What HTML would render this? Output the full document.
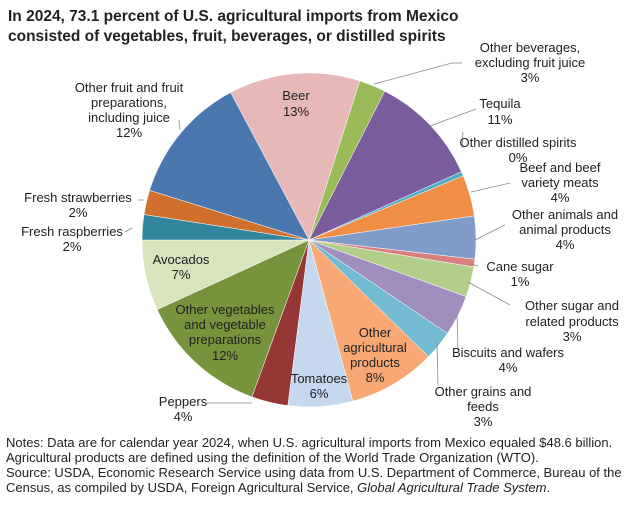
<!DOCTYPE html>
<html><head><meta charset="utf-8"><style>
body{margin:0;background:#fff;}
svg text{font-family:"Liberation Sans",Arial,sans-serif;font-size:13px;fill:#222;}
</style></head><body>
<svg id="s" width="626" height="501" viewBox="0 0 626 501" xmlns="http://www.w3.org/2000/svg">
<rect width="626" height="501" fill="#fff"/>
<g id="pie"></g>
<g stroke="#888" stroke-width="0.8" fill="none">
<polyline points="374,84 452,63 462,63"/>
<polyline points="430,126 476,109"/>
<polyline points="462,148 463,132"/>
<polyline points="471,192 510,183"/>
<polyline points="475,240 505,225"/>
<polyline points="472,264 478,266"/>
<polyline points="468,282 510,305"/>
<polyline points="457,314 458,350"/>
<polyline points="437,343 438,385"/>
<polyline points="252,403 207,403"/>
<polyline points="144,200 138,200"/>
<polyline points="132,228 125,232"/>
<polyline points="179,120 180,130"/>
</g>
<text x="8" y="21" style="font-weight:bold;font-size:15.5px">In 2024, 73.1 percent of U.S. agricultural imports from Mexico</text>
<text x="8" y="41" style="font-weight:bold;font-size:15.5px">consisted of vegetables, fruit, beverages, or distilled spirits</text>
<g text-anchor="middle">
<text x="296" y="100">Beer</text><text x="296" y="116">13%</text>
<text x="530" y="52">Other beverages,</text><text x="530" y="67">excluding fruit juice</text><text x="530" y="82">3%</text>
<text x="500" y="108">Tequila</text><text x="500" y="124">11%</text>
<text x="518" y="147">Other distilled spirits</text><text x="518" y="162">0%</text>
<text x="560" y="172">Beef and beef</text><text x="560" y="187">variety meats</text><text x="560" y="202">4%</text>
<text x="565" y="219">Other animals and</text><text x="565" y="234">animal products</text><text x="565" y="249">4%</text>
<text x="520" y="271">Cane sugar</text><text x="520" y="286">1%</text>
<text x="572" y="310">Other sugar and</text><text x="572" y="326">related products</text><text x="572" y="341">3%</text>
<text x="508" y="357">Biscuits and wafers</text><text x="508" y="372">4%</text>
<text x="483" y="396">Other grains and</text><text x="483" y="411">feeds</text><text x="483" y="426">3%</text>
<text x="375" y="337">Other</text><text x="375" y="352">agricultural</text><text x="375" y="367">products</text><text x="375" y="382">8%</text>
<text x="319" y="383">Tomatoes</text><text x="319" y="398">6%</text>
<text x="183" y="406">Peppers</text><text x="183" y="421">4%</text>
<text x="225" y="314">Other vegetables</text><text x="225" y="329">and vegetable</text><text x="225" y="344">preparations</text><text x="225" y="360">12%</text>
<text x="181" y="264">Avocados</text><text x="181" y="279">7%</text>
<text x="78" y="202">Fresh strawberries</text><text x="78" y="217">2%</text>
<text x="72" y="236">Fresh raspberries</text><text x="72" y="251">2%</text>
<text x="129" y="92">Other fruit and fruit</text><text x="129" y="107">preparations,</text><text x="129" y="122">including juice</text><text x="129" y="137">12%</text>
</g>
<g style="font-size:12.3px">
<text x="6" y="447">Notes: Data are for calendar year 2024, when U.S. agricultural imports from Mexico equaled $48.6 billion.</text>
<text x="6" y="462">Agricultural products are defined using the definition of the World Trade Organization (WTO).</text>
<text x="6" y="477">Source: USDA, Economic Research Service using data from U.S. Department of Commerce, Bureau of the</text>
<text x="6" y="492">Census, as compiled by USDA, Foreign Agricultural Service, <tspan font-style="italic">Global Agricultural Trade System</tspan>.</text>
</g>
</svg>
<script>
var cx=309,cy=240,r=167;
var b=[[-28,17.7,"#e6b9b8"],[17.7,27,"#9bbb59"],[27,65.9,"#7a5c9c"],[65.9,67.4,"#4bacc6"],[67.4,81.7,"#ef8e44"],[81.7,96.6,"#7f9cc9"],[96.6,99.3,"#d9807f"],[99.3,109.8,"#b3cd8b"],[109.8,124,"#a08ebe"],[124,134.3,"#72bbd2"],[134.3,164.8,"#f8a874"],[164.8,187.3,"#c6d8f0"],[187.3,200,"#953735"],[200,245.4,"#77933c"],[245.4,270,"#d8e4bd"],[270,278.8,"#31859c"],[278.8,287.3,"#d0702e"],[287.3,332,"#4a77b0"]];
var g=document.getElementById("pie"),h="";
function p(a){a=a*Math.PI/180;return (cx+r*Math.sin(a)).toFixed(1)+","+(cy-r*Math.cos(a)).toFixed(1);}
b.forEach(function(s){var l=(s[1]-s[0])>180?1:0;h+='<path d="M'+cx+','+cy+' L'+p(s[0])+' A'+r+','+r+' 0 '+l+' 1 '+p(s[1])+' Z" fill="'+s[2]+'" stroke="#fff" stroke-width="0.5"/>';});
g.innerHTML=h;
</script>
</body></html>
